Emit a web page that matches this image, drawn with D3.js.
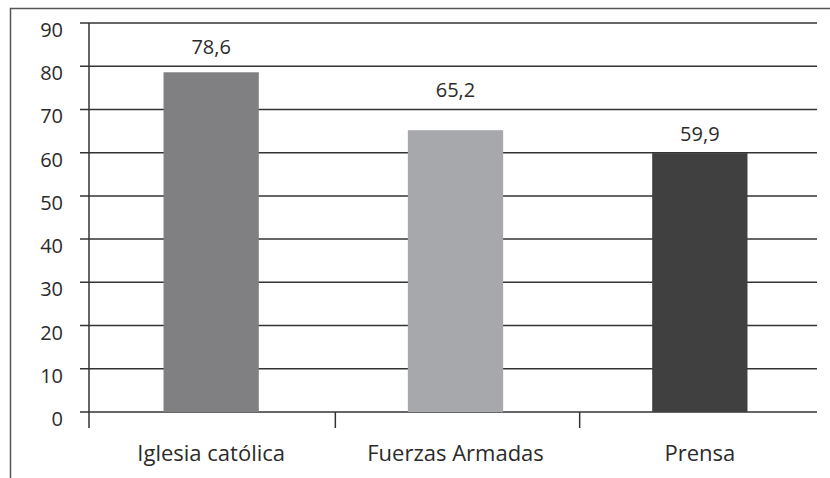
<html>
<head>
    <meta charset="utf-8">
    <style>
        body { margin: 0; background: #fff; }
        text { font-family: "Open Sans", sans-serif; fill: #2b2b2b; }
        .tick { font-size: 20px; }
        .val { font-size: 20px; text-anchor: middle; }
        .cat { font-size: 22px; text-anchor: middle; }
    </style>
    <script src="https://d3js.org/d3.v7.min.js"></script>
</head>
<body>
    <svg width="830" height="478"></svg>
    <script>
        var categories = ["Iglesia católica", "Fuerzas Armadas", "Prensa"];
        var values = [78.6, 65.2, 59.9];
        var valueLabels = ["78,6", "65,2", "59,9"];
        var barColors = ["#808083", "#a7a8ab", "#404040"];
        var yTicks = [0, 10, 20, 30, 40, 50, 60, 70, 80, 90];

        var svg = d3.select("svg");

        // outer frame (partially cropped on the right and bottom)
        svg.append("path")
           .attr("d", "M10.5,478 V8.5 H830")
           .attr("fill", "none")
           .attr("stroke", "#555")
           .attr("stroke-width", 1.5);

        var x = d3.scaleBand()
                  .domain(categories)
                  .range([89, 822])
                  .paddingInner(0.61)
                  .paddingOuter(0.305);

        var y = d3.scaleLinear()
                  .domain([0, 90])
                  .range([412, 23]);

        // gridlines
        svg.append("g")
           .selectAll("line")
           .data(yTicks)
           .enter().append("line")
           .attr("x1", 80)
           .attr("x2", 817)
           .attr("y1", function(d) { return y(d); })
           .attr("y2", function(d) { return y(d); })
           .attr("stroke", "#333")
           .attr("stroke-width", 1.5);

        // y axis labels
        svg.append("g")
           .selectAll("text")
           .data(yTicks)
           .enter().append("text")
           .attr("class", "tick")
           .attr("x", 63)
           .attr("y", function(d) { return y(d) + 14; })
           .attr("text-anchor", "end")
           .text(function(d) { return d; });

        // y axis line
        svg.append("line")
           .attr("x1", 89).attr("x2", 89)
           .attr("y1", y(90)).attr("y2", 428)
           .attr("stroke", "#333")
           .attr("stroke-width", 1.5);

        // bars
        svg.append("g")
           .selectAll("rect")
           .data(values)
           .enter().append("rect")
           .attr("x", function(d, i) { return x(categories[i]); })
           .attr("width", x.bandwidth())
           .attr("y", function(d) { return y(d); })
           .attr("height", function(d) { return y(0) - y(d); })
           .attr("fill", function(d, i) { return barColors[i]; });

        // category boundary ticks
        var step = x.step();
        svg.append("g")
           .selectAll("line")
           .data(categories.slice(1))
           .enter().append("line")
           .attr("x1", function(d) { return x(d) - step * x.paddingInner() / 2 + 2; })
           .attr("x2", function(d) { return x(d) - step * x.paddingInner() / 2 + 2; })
           .attr("y1", y(0))
           .attr("y2", 428)
           .attr("stroke", "#333")
           .attr("stroke-width", 1.5);

        // value labels, sitting in the gap above the next gridline
        svg.append("g")
           .selectAll("text")
           .data(values)
           .enter().append("text")
           .attr("class", "val")
           .attr("x", function(d, i) { return x(categories[i]) + x.bandwidth() / 2; })
           .attr("y", function(d) { return y(Math.ceil(d / 10) * 10) - 12; })
           .text(function(d, i) { return valueLabels[i]; });

        // category labels
        svg.append("g")
           .selectAll("text")
           .data(categories)
           .enter().append("text")
           .attr("class", "cat")
           .attr("x", function(d) { return x(d) + x.bandwidth() / 2; })
           .attr("y", 461)
           .text(function(d) { return d; });
    </script>
</body>
</html>
